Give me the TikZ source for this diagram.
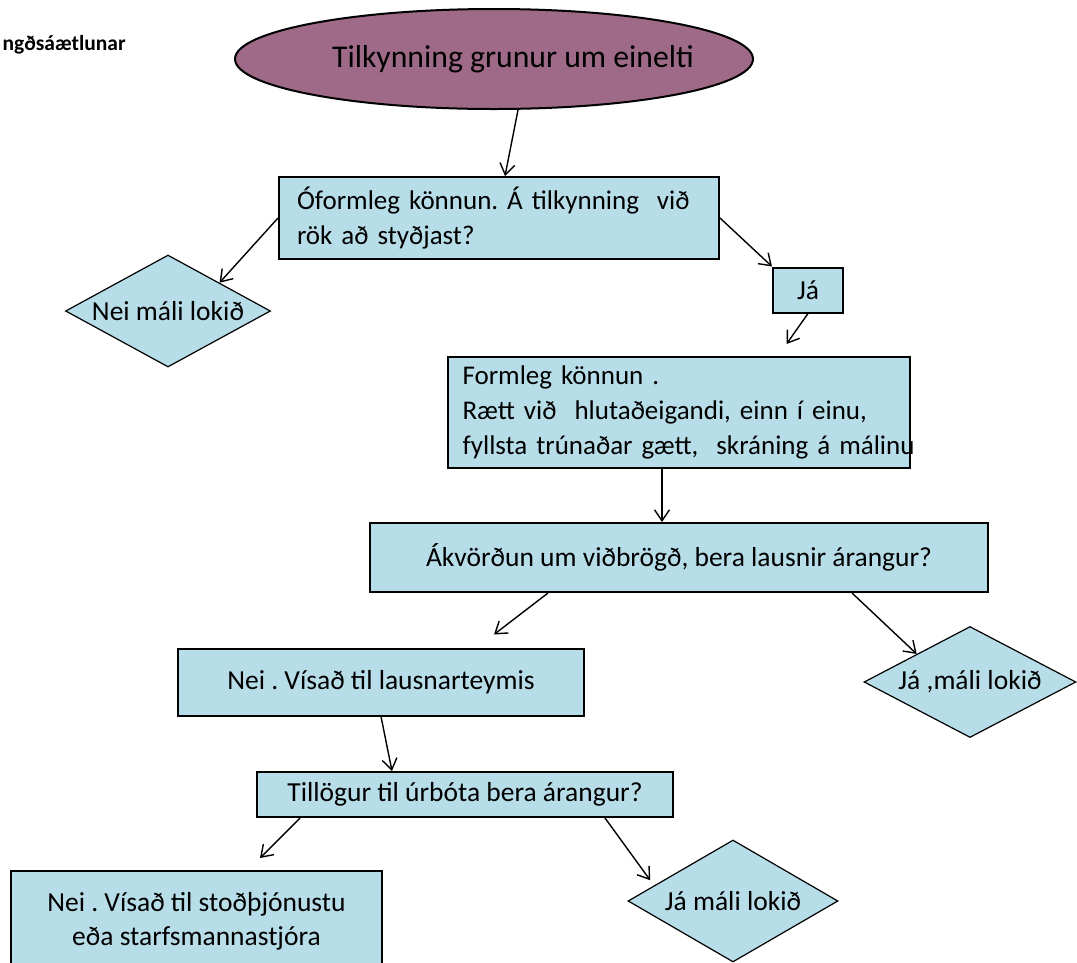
\documentclass[tikz,border=0pt]{standalone}
\usepackage{fontspec}
\setmainfont{Carlito}
\usetikzlibrary{shapes.geometric,arrows.meta}
\definecolor{boxblue}{RGB}{183,221,232}
\definecolor{mauve}{RGB}{158,106,136}
\frenchspacing

\begin{document}
\begin{tikzpicture}[x=1pt, y=-1pt,
		box/.style={draw, line width=2pt, fill=boxblue, inner sep=0pt, font=\fontsize{27.5}{34}\selectfont},
		leftbox/.style={box, align=left, font=\fontsize{27}{35}\selectfont},
		ends/.style={draw, diamond, line width=1.2pt, fill=boxblue, inner sep=0pt, aspect=2, font=\fontsize{27.5}{34}\selectfont},
		flow/.style={line width=1.4pt, -{Straight Barb[length=11pt, width=15pt, line width=1.4pt]}}]

		\useasboundingbox (0,0) rectangle (1077,962);

		% heading
		\node[anchor=west, font=\bfseries\fontsize{21.5}{26}\selectfont] (plantitle) at (-1,45) {ngðsáætlunar};
		\node[ellipse, draw, line width=2pt, fill=mauve, inner sep=0pt, minimum width=518pt, minimum height=100pt,
			font=\fontsize{31.7}{38}\selectfont] (report) at (494,59)
			{\makebox[0pt]{\hspace*{38pt}Tilkynning grunur um einelti}};

		% informal check
		\node[leftbox, minimum width=440pt, minimum height=82pt, text width=404pt] (informal) at (499,218)
			{\mbox{Óformleg könnun. Á tilkynning~ við}\\\mbox{rök að styðjast?}};
		\node[ends, minimum width=205pt, minimum height=112pt] (noend) at (168,311) {Nei máli lokið};
		\node[box, minimum width=70pt, minimum height=45pt] (yes) at (808,290) {Já};

		% formal check
		\node[leftbox, minimum width=462pt, minimum height=111pt, text width=432pt] (formal) at (678.5,412)
			{\mbox{Formleg könnun .}\\\mbox{Rætt við~ hlutaðeigandi, einn í einu,}\\\mbox{fyllsta trúnaðar gætt,~ skráning á málinu}};
		\node[box, minimum width=618pt, minimum height=69pt] (decide) at (679,557.5)
			{Ákvörðun um viðbrögð, bera lausnir árangur?};
		\node[box, minimum width=406pt, minimum height=67pt] (team) at (381,682) {Nei . Vísað til lausnarteymis};
		\node[ends, minimum width=212pt, minimum height=111pt] (yesend) at (970,682) {Já ,máli lokið};

		% remedies
		\node[box, minimum width=416pt, minimum height=45pt] (remedy) at (465,794.5) {Tillögur til úrbóta bera árangur?};
		\node[box, minimum width=371pt, minimum height=100pt, align=center] (support) at (196.5,921)
			{Nei . Vísað til stoðþjónustu\\eða starfsmannastjóra};
		\node[ends, minimum width=210pt, minimum height=122pt] (lastend) at (733,901) {Já máli lokið};

		% arrows
		\draw[flow] ([xshift=24pt]report.south) -- ([xshift=6pt]informal.north);
		\draw[flow] (informal.west) -- (noend.north east);
		\draw[flow] (informal.east) -- (yes.north west);
		\draw[flow] (yes.south) -- ([xshift=108pt, yshift=11.5pt]formal.north);
		\draw[flow] ([xshift=-16.5pt]formal.south) -- ([xshift=-17pt]decide.north);
		\draw[flow] ([xshift=-131pt]decide.south) -- ([xshift=113pt, yshift=13pt]team.north);
		\draw[flow] ([xshift=173pt]decide.south) -- (yesend.north west);
		\draw[flow] (team.south) -- ([xshift=-73pt]remedy.north);
		\draw[flow] ([xshift=-165pt]remedy.south) -- ([xshift=63.5pt, yshift=12pt]support.north);
		\draw[flow] ([xshift=140pt]remedy.south) -- ([xshift=-30pt, yshift=-10pt]lastend.north west);

	\end{tikzpicture}
\end{document}
